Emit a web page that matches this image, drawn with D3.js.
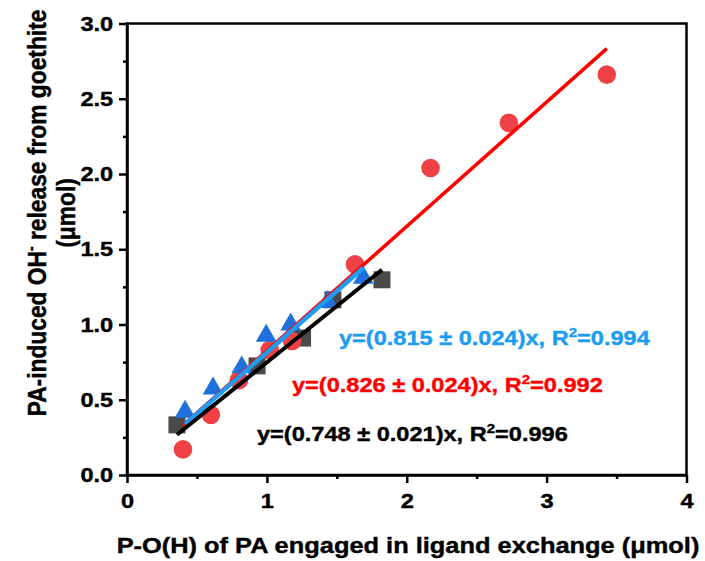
<!DOCTYPE html>
<html>
<head>
<meta charset="utf-8">
<script src="https://cdn.jsdelivr.net/npm/d3@7"></script>
<style>
  body { margin: 0; background: #fff; }
  text { font-family: Arial, "Liberation Sans", sans-serif; font-weight: bold; }
</style>
</head>
<body>
<svg id="chart" width="705" height="561"></svg>
<script>
// Red circles: first data set
const circleX = [0.40, 0.60, 0.80, 1.02, 1.18, 1.63, 2.17, 2.73, 3.43];
const circleY = [0.17, 0.40, 0.63, 0.83, 0.89, 1.40, 2.04, 2.34, 2.66];
// Blue triangles: second data set
const triX = [0.415, 0.615, 0.82, 0.995, 1.17, 1.435, 1.69];
const triY = [0.42, 0.575, 0.715, 0.925, 1.00, 1.15, 1.31];
// Dark squares: third data set
const sqX = [0.357, 0.93, 1.255, 1.472, 1.823];
const sqY = [0.333, 0.725, 0.91, 1.164, 1.297];

// Fitted slopes through the origin
const slopeRed = 0.826, slopeBlue = 0.815, slopeBlack = 0.748;
const fitLabels = [
  { text: "y=(0.815 ± 0.024)x, R", r2: "0.994", color: "#1e9cf0", x: 339, y: 345 },
  { text: "y=(0.826 ± 0.024)x, R", r2: "0.992", color: "#ff0000", x: 292, y: 392 },
  { text: "y=(0.748 ± 0.021)x, R", r2: "0.996", color: "#000000", x: 257, y: 441 }
];

const xTicks = [0, 1, 2, 3, 4];
const xMinor = [0.5, 1.5, 2.5, 3.5];
const yTicks = [0, 0.5, 1.0, 1.5, 2.0, 2.5, 3.0];
const yMinor = [0.25, 0.75, 1.25, 1.75, 2.25, 2.75];

const svg = d3.select("#chart");
const x = d3.scaleLinear().domain([0, 4]).range([127, 686.5]);
const y = d3.scaleLinear().domain([0, 3]).range([475, 23.5]);
const SX = 1.15; // horizontal widening of the lettering

// Frame
svg.append("rect")
  .attr("x", x(0)).attr("y", y(3))
  .attr("width", x(4) - x(0)).attr("height", y(0) - y(3))
  .attr("fill", "none").attr("stroke", "#000").attr("stroke-width", 2.5);

// Axes
const gx = svg.append("g").attr("transform", `translate(0,${y(0)})`)
  .call(d3.axisBottom(x).tickValues(xTicks).tickSize(8).tickSizeOuter(0).tickFormat(d3.format("d")));
const gxm = svg.append("g").attr("transform", `translate(0,${y(0)})`)
  .call(d3.axisBottom(x).tickValues(xMinor).tickSize(4).tickFormat(""));
const gy = svg.append("g").attr("transform", `translate(${x(0)},0)`)
  .call(d3.axisLeft(y).tickValues(yTicks).tickSize(8).tickSizeOuter(0).tickFormat(d3.format(".1f")));
const gym = svg.append("g").attr("transform", `translate(${x(0)},0)`)
  .call(d3.axisLeft(y).tickValues(yMinor).tickSize(4).tickFormat(""));

gxm.select(".domain").remove();
gym.select(".domain").remove();
[gx, gxm, gy, gym].forEach(g => {
  g.selectAll("path,line").attr("stroke", "#000").attr("stroke-width", 2.5);
});
gx.selectAll("text").attr("font-size", 20.5).attr("fill", "#000")
  .attr("stroke", "#000").attr("stroke-width", 0.4)
  .attr("y", 18).attr("dy", "0.71em").attr("transform", `scale(${SX},1)`);
gy.selectAll("text").attr("font-size", 20.5).attr("fill", "#000")
  .attr("stroke", "#000").attr("stroke-width", 0.4)
  .attr("x", -12).attr("transform", `scale(${SX},1)`);

// Axis titles
svg.append("text")
  .attr("transform", `translate(408,553) scale(${SX},1)`)
  .attr("text-anchor", "middle").attr("font-size", 22.1).attr("fill", "#000")
  .attr("stroke", "#000").attr("stroke-width", 0.4)
  .text("P-O(H) of PA engaged in ligand exchange (μmol)");

const yt = svg.append("text")
  .attr("transform", `translate(46,213) rotate(-90) scale(1,${SX})`)
  .attr("text-anchor", "middle").attr("font-size", 22.8).attr("fill", "#000")
  .attr("stroke", "#000").attr("stroke-width", 0.4);
yt.append("tspan").text("PA-induced OH");
yt.append("tspan").attr("font-size", 14).attr("dy", -9).text("-");
yt.append("tspan").attr("dy", 9).text(" release from goethite");
svg.append("text")
  .attr("transform", `translate(75,213) rotate(-90) scale(1,${SX})`)
  .attr("text-anchor", "middle").attr("font-size", 22.8).attr("fill", "#000")
  .attr("stroke", "#000").attr("stroke-width", 0.4)
  .text("(μmol)");

// Markers
const plot = svg.append("g");
plot.selectAll("rect.sq").data(d3.zip(sqX, sqY)).join("rect")
  .attr("class", "sq")
  .attr("x", d => x(d[0]) - 8.5).attr("y", d => y(d[1]) - 8.5)
  .attr("width", 17).attr("height", 17).attr("fill", "#4a4a4a");
plot.selectAll("circle").data(d3.zip(circleX, circleY)).join("circle")
  .attr("cx", d => x(d[0])).attr("cy", d => y(d[1])).attr("r", 9.3)
  .attr("fill", "#ef4146");
const tri = d3.symbol().type(d3.symbolTriangle).size(185);
plot.selectAll("path.tri").data(d3.zip(triX, triY)).join("path")
  .attr("class", "tri")
  .attr("transform", d => `translate(${x(d[0])},${y(d[1])})`)
  .attr("d", tri).attr("fill", "#1f6fdc");

// Fit lines drawn over each series' x range
function fitLine(xs, slope, color, width) {
  const [lo, hi] = d3.extent(xs);
  svg.append("line")
    .attr("x1", x(lo)).attr("y1", y(slope * lo))
    .attr("x2", x(hi)).attr("y2", y(slope * hi))
    .attr("stroke", color).attr("stroke-width", width);
}
fitLine(circleX, slopeRed, "#ff0000", 3.5);
fitLine(triX, slopeBlue, "#1e9cf0", 4.5);
fitLine(sqX, slopeBlack, "#000000", 4);

// Fit equations
fitLabels.forEach(f => {
  const t = svg.append("text")
    .attr("transform", `translate(${f.x},${f.y}) scale(${SX},1)`)
    .attr("font-size", 20.5).attr("fill", f.color)
    .attr("stroke", f.color).attr("stroke-width", 0.4);
  t.append("tspan").text(f.text);
  t.append("tspan").attr("font-size", 13).attr("dy", -8.5).text("2");
  t.append("tspan").attr("dy", 8.5).text("=" + f.r2);
});
</script>
</body>
</html>
